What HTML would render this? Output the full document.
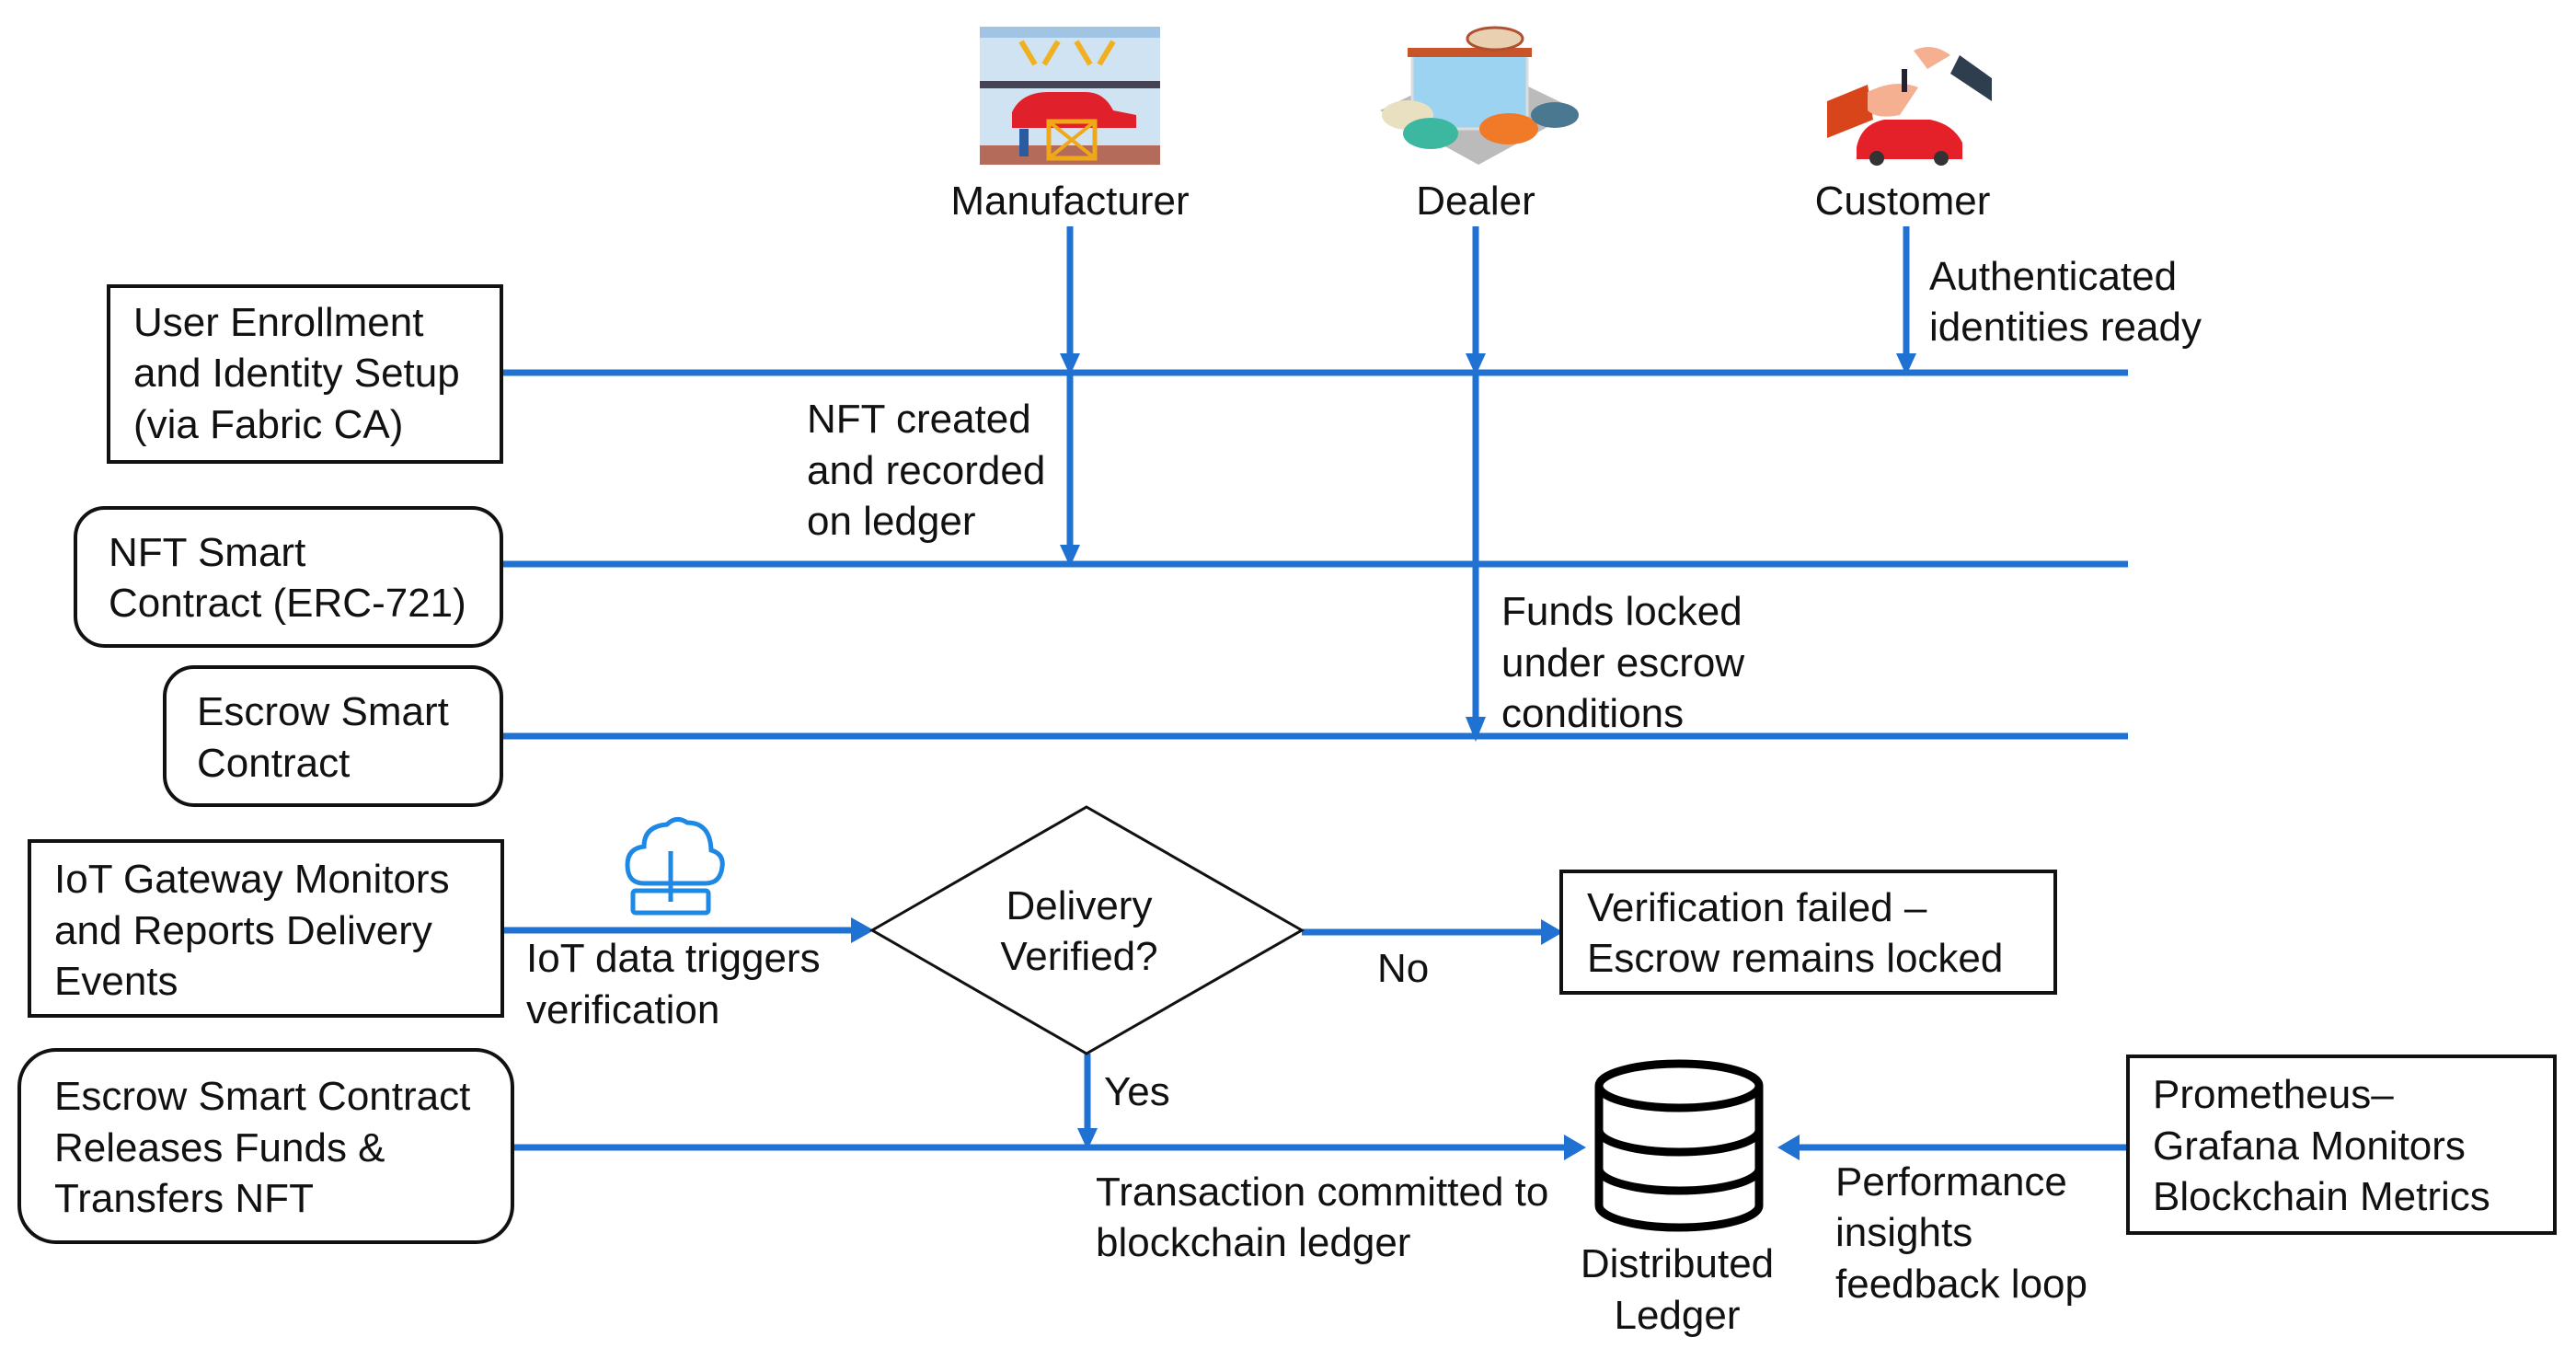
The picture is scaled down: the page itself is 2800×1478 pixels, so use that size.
<!DOCTYPE html>
<html><head><meta charset="utf-8"><style>
html,body{margin:0;padding:0;background:#fff}
svg text{font-family:"Liberation Sans",sans-serif;font-size:44px;fill:#111}
</style></head><body>
<svg width="2800" height="1473" viewBox="0 0 2800 1473" xmlns="http://www.w3.org/2000/svg">
<g stroke="#1f72d2" stroke-width="7" fill="none">
<line x1="545" y1="405" x2="2313" y2="405"/>
<line x1="545" y1="613" x2="2313" y2="613"/>
<line x1="545" y1="800" x2="2313" y2="800"/>
<line x1="1163" y1="246" x2="1163" y2="395"/>
<line x1="1163" y1="405" x2="1163" y2="603"/>
<line x1="1604" y1="246" x2="1604" y2="395"/>
<line x1="1604" y1="405" x2="1604" y2="790"/>
<line x1="2072" y1="246" x2="2072" y2="395"/>
<line x1="546" y1="1011" x2="930" y2="1011"/>
<line x1="1415" y1="1013" x2="1680" y2="1013"/>
<line x1="1182" y1="1145" x2="1182" y2="1232"/>
<line x1="557" y1="1247" x2="1705" y2="1247"/>
<line x1="2313" y1="1247" x2="1950" y2="1247"/>
</g>
<g fill="#1f72d2">
<polygon points="1152,384 1174,384 1163,408"/>
<polygon points="1152,592 1174,592 1163,616"/>
<polygon points="1593,384 1615,384 1604,408"/>
<polygon points="1593,779 1615,779 1604,806"/>
<polygon points="2061,384 2083,384 2072,408"/>
<polygon points="925,997 925,1025 950,1011"/>
<polygon points="1675,999 1675,1027 1699,1013"/>
<polygon points="1171,1226 1193,1226 1182,1250"/>
<polygon points="1700,1233 1700,1261 1724,1247"/>
<polygon points="1956,1233 1956,1261 1932,1247"/>
</g>
<g stroke="#111" stroke-width="4" fill="#fff">
<rect x="118" y="311" width="427" height="191"/>
<rect x="82" y="552" width="463" height="150" rx="32"/>
<rect x="179" y="725" width="366" height="150" rx="32"/>
<rect x="32" y="914" width="514" height="190"/>
<rect x="21" y="1141" width="536" height="209" rx="40"/>
<rect x="1697" y="947" width="537" height="132"/>
<rect x="2313" y="1148" width="464" height="192"/>
<polygon points="1181,877 1415,1011 1181,1145 948,1011" stroke-width="3"/>
</g>
<g stroke="#000" stroke-width="9" fill="#fff">
<path d="M1738,1180 L1738,1310 A87,24 0 0 0 1912,1310 L1912,1180"/>
<ellipse cx="1825" cy="1180" rx="87" ry="24"/>
<path d="M1738,1228 A87,24 0 0 0 1912,1228" fill="none"/>
<path d="M1738,1270 A87,24 0 0 0 1912,1270" fill="none"/>
</g>
<g>
<rect x="1065" y="29" width="196" height="150" fill="#cfe3f2"/>
<rect x="1065" y="29" width="196" height="12" fill="#9fc4e4"/>
<rect x="1065" y="88" width="196" height="8" fill="#445"/>
<rect x="1065" y="158" width="196" height="21" fill="#b56b5a"/>
<path d="M1100,122 q10,-22 40,-22 l40,0 q20,0 30,20 l25,5 0,14 -135,0z" fill="#e0202a"/>
<rect x="1140" y="132" width="50" height="40" fill="none" stroke="#f0a818" stroke-width="5"/>
<path d="M1140,132 L1190,172 M1190,132 L1140,172" stroke="#f0a818" stroke-width="4"/>
<path d="M1110,45 l15,25 M1150,45 l-15,25 M1170,45 l15,25 M1210,45 l-15,25" stroke="#f0b020" stroke-width="6"/>
<rect x="1108" y="140" width="10" height="30" fill="#2a5aa0"/>
</g>
<g>
<polygon points="1500,120 1607,68 1715,120 1607,179" fill="#bbb"/>
<rect x="1535" y="60" width="125" height="80" fill="#9cd3f0" stroke="#ddd" stroke-width="3"/>
<rect x="1530" y="52" width="135" height="10" fill="#c8552a"/>
<ellipse cx="1625" cy="42" rx="30" ry="12" fill="#e8d0b0" stroke="#b05030" stroke-width="3"/>
<ellipse cx="1530" cy="125" rx="28" ry="16" fill="#e8e0c0"/>
<ellipse cx="1555" cy="145" rx="30" ry="17" fill="#3cb8a0"/>
<ellipse cx="1640" cy="140" rx="32" ry="17" fill="#f07a28"/>
<ellipse cx="1690" cy="125" rx="26" ry="14" fill="#4a7890"/>
</g>
<g>
<polygon points="1986,110 2030,92 2036,130 1986,150" fill="#d8451a"/>
<path d="M2030,100 q30,-15 55,-5 l-20,30 q-25,5 -35,-5z" fill="#f4b090"/>
<path d="M2080,55 q20,-10 40,5 l-25,15z" fill="#f4b090"/>
<polygon points="2130,60 2165,85 2165,110 2120,80" fill="#2e3e4e"/>
<rect x="2067" y="75" width="6" height="25" fill="#223"/>
<path d="M2018,160 q5,-25 30,-30 l50,0 q25,5 35,25 l0,18 -115,0z" fill="#e42028"/>
<circle cx="2040" cy="172" r="8" fill="#333"/><circle cx="2110" cy="172" r="8" fill="#333"/>
</g>
<g fill="none" stroke="#1e88e5" stroke-width="5">
<path d="M700,960 q-18,0 -18,-20 q0,-18 18,-20 q0,-22 25,-24 q10,-10 22,-2 q25,0 26,30 q14,4 12,18 q-2,18 -18,18z"/>
<rect x="688" y="968" width="82" height="24" rx="3"/>
<line x1="729" y1="925" x2="729" y2="980"/>
</g>
<g text-anchor="middle">
<text x="1163" y="233">Manufacturer</text>
<text x="1604" y="233">Dealer</text>
<text x="2068" y="233">Customer</text>
<text x="1173" y="999">Delivery</text>
<text x="1173" y="1054">Verified?</text>
<text x="1823" y="1388">Distributed</text>
<text x="1823" y="1444">Ledger</text>
</g>
<text x="145" y="365">User Enrollment</text>
<text x="145" y="420">and Identity Setup</text>
<text x="145" y="476">(via Fabric CA)</text>
<text x="118" y="615">NFT Smart</text>
<text x="118" y="670">Contract (ERC-721)</text>
<text x="214" y="788">Escrow Smart</text>
<text x="214" y="844">Contract</text>
<text x="59" y="970">IoT Gateway Monitors</text>
<text x="59" y="1026">and Reports Delivery</text>
<text x="59" y="1081">Events</text>
<text x="59" y="1206">Escrow Smart Contract</text>
<text x="59" y="1262">Releases Funds &amp;</text>
<text x="59" y="1317">Transfers NFT</text>
<text x="1725" y="1001">Verification failed –</text>
<text x="1725" y="1056">Escrow remains locked</text>
<text x="2340" y="1204">Prometheus–</text>
<text x="2340" y="1260">Grafana Monitors</text>
<text x="2340" y="1315">Blockchain Metrics</text>
<text x="877" y="470">NFT created</text>
<text x="877" y="526">and recorded</text>
<text x="877" y="581">on ledger</text>
<text x="2097" y="315">Authenticated</text>
<text x="2097" y="370">identities ready</text>
<text x="1632" y="679">Funds locked</text>
<text x="1632" y="735">under escrow</text>
<text x="1632" y="790">conditions</text>
<text x="572" y="1056">IoT data triggers</text>
<text x="572" y="1112">verification</text>
<text x="1497" y="1067">No</text>
<text x="1200" y="1201">Yes</text>
<text x="1191" y="1310">Transaction committed to</text>
<text x="1191" y="1365">blockchain ledger</text>
<text x="1995" y="1299">Performance</text>
<text x="1995" y="1354">insights</text>
<text x="1995" y="1410">feedback loop</text>
</svg>
</body></html>
